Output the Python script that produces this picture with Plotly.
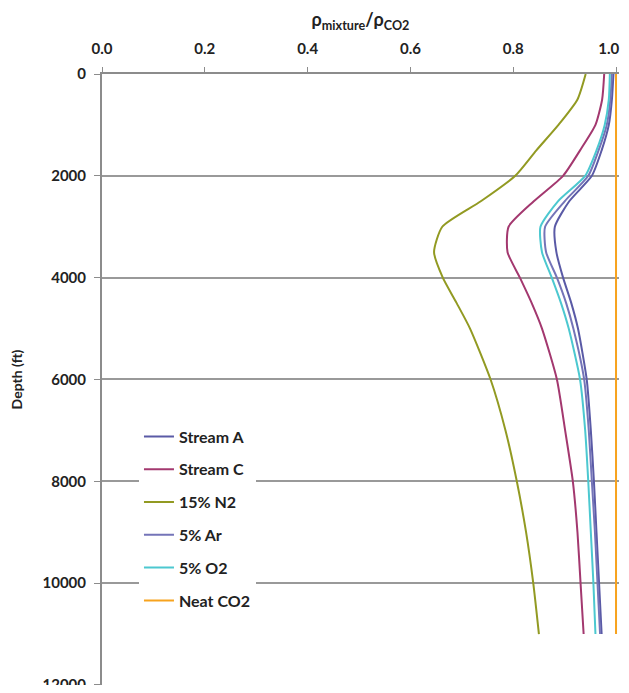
import plotly.graph_objects as go

depth = [0, 500, 1000, 1500, 2000, 2500, 3000, 3500, 4000, 4500, 5000,
         6000, 7000, 8000, 9000, 10000, 11000]

stream_a = [0.995, 0.992, 0.986, 0.972, 0.953, 0.909, 0.881, 0.884, 0.897, 0.913, 0.926,
            0.943, 0.951, 0.957, 0.962, 0.967, 0.972]
stream_c = [0.977, 0.973, 0.960, 0.930, 0.897, 0.840, 0.791, 0.789, 0.813, 0.836, 0.856,
            0.885, 0.901, 0.916, 0.925, 0.931, 0.937]
n2_15 = [0.941, 0.925, 0.888, 0.845, 0.804, 0.737, 0.662, 0.646, 0.663, 0.690, 0.716,
         0.756, 0.785, 0.807, 0.825, 0.839, 0.850]
ar_5 = [0.992, 0.989, 0.982, 0.966, 0.946, 0.900, 0.862, 0.864, 0.885, 0.903, 0.917,
        0.938, 0.947, 0.953, 0.959, 0.964, 0.969]
o2_5 = [0.988, 0.986, 0.978, 0.962, 0.940, 0.887, 0.853, 0.856, 0.875, 0.893, 0.908,
        0.930, 0.940, 0.946, 0.951, 0.956, 0.960]
neat_depth = [0, 11000]
neat_co2 = [1.0, 1.0]

series = [
    ("Stream A", stream_a, depth, "#5a5aa6", "spline"),
    ("Stream C", stream_c, depth, "#a3386f", "spline"),
    ("15% N2", n2_15, depth, "#929a22", "spline"),
    ("5% Ar", ar_5, depth, "#7474b8", "spline"),
    ("5% O2", o2_5, depth, "#4cc8d0", "spline"),
    ("Neat CO2", neat_co2, neat_depth, "#f7a31e", "linear"),
]

x_ticks = [0.0, 0.2, 0.4, 0.6, 0.8, 1.0]
y_ticks = [0, 2000, 4000, 6000, 8000, 10000, 12000]

# last label padded on the right so it stays inside the visible window
x_ticktext = [f"{v:.1f}" for v in x_ticks]
x_ticktext[-1] = x_ticktext[-1] + "\u00a0\u00a0\u00a0\u00a0"

fig = go.Figure()
for i, (name, xs, ys, color, shape) in enumerate(series):
    line = dict(color=color, width=2, shape=shape)
    if shape == "spline":
        line["smoothing"] = 0.6
    fig.add_trace(go.Scatter(
        x=xs, y=ys, name=name, mode="lines", line=line,
        legendgroup=f"g{i}",
    ))

font_family = "Lato, 'Open Sans', sans-serif"
# the page body adds an 8px margin, so the figure is sized to fit the window without scrolling
fig.update_layout(
    width=621, height=677,
    margin=dict(l=94, r=10, t=66, b=0, autoexpand=False),
    paper_bgcolor="white", plot_bgcolor="white",
    font=dict(family=font_family, size=12, color="#222222"),
    showlegend=True,
    legend=dict(
        x=0.0715, y=0.4345, xanchor="left", yanchor="top",
        bgcolor="white", borderwidth=0,
        tracegroupgap=9,
        font=dict(family=font_family, size=16, color="#222222", weight="bold"),
    ),
    xaxis=dict(
        side="top", range=[0, 1.0058], tickvals=x_ticks,
        ticktext=x_ticktext,
        showgrid=False, zeroline=False, automargin=False,
        showline=True, linecolor="#8c8c8c", linewidth=2,
        ticks="outside", ticklen=5, tickcolor="#8c8c8c", tickwidth=1,
        ticklabelstandoff=7, ticklabeloverflow="allow",
        tickfont=dict(size=15, weight="bold", color="#222222"),
        title=dict(text="ρ<sub>mixture</sub>/ρ<sub>CO2</sub>",
                   font=dict(size=18, weight="bold", color="#222222"), standoff=8),
    ),
    yaxis=dict(
        range=[12001, 0], tickvals=y_ticks,
        ticktext=[str(v) for v in y_ticks],
        showgrid=True, gridcolor="#999999", gridwidth=1.5,
        zeroline=False, automargin=False,
        showline=True, linecolor="#8c8c8c", linewidth=2,
        ticks="outside", ticklen=6, tickcolor="#8c8c8c", tickwidth=1,
        ticklabelstandoff=5, ticklabeloverflow="allow",
        tickfont=dict(size=15, weight="bold", color="#222222"),
        title=dict(text="Depth (ft)", font=dict(size=14, weight="bold", color="#222222"),
                   standoff=17),
    ),
)

fig.write_html("out.html")
